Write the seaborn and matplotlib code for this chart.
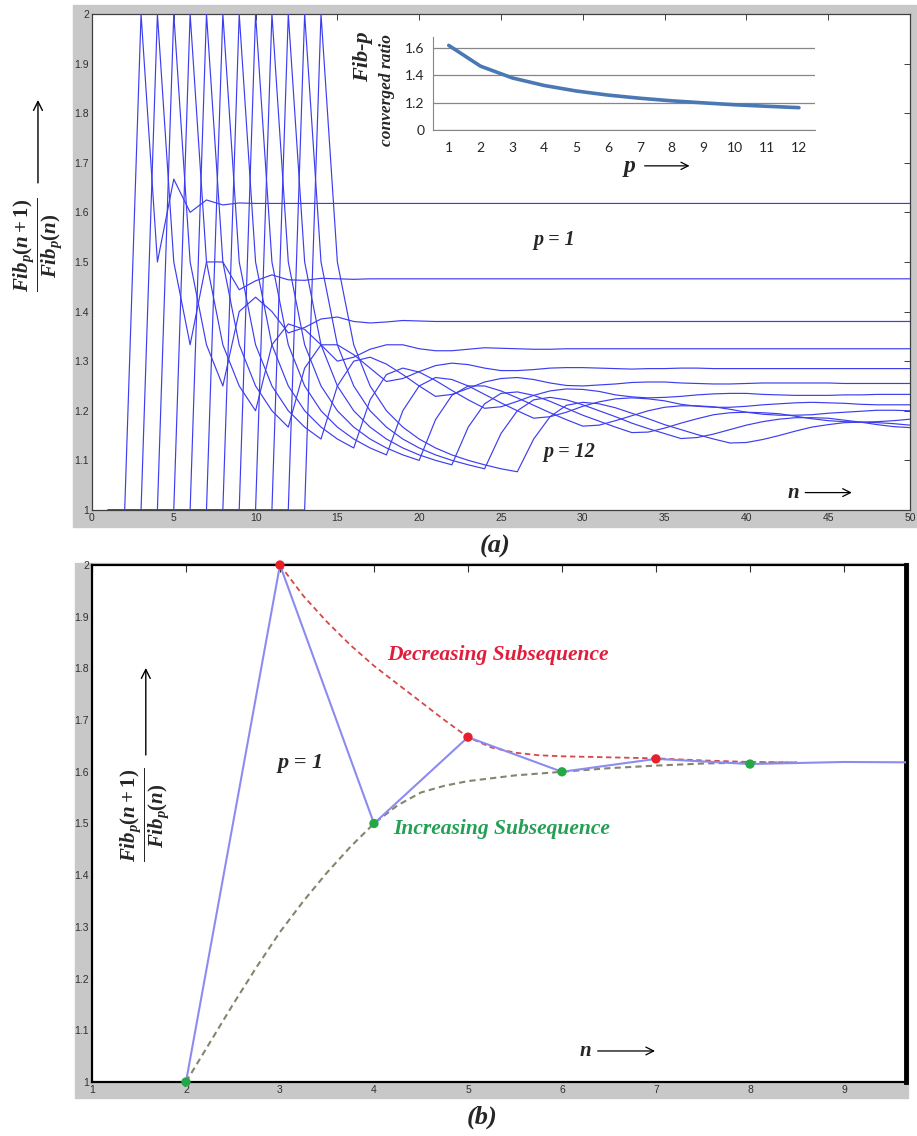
import numpy as np
import pandas as pd
import seaborn as sns
import matplotlib.pyplot as plt
from matplotlib.patches import Rectangle
from matplotlib.ticker import FuncFormatter

# --- ratio Fib_p(n+1)/Fib_p(n), n = 1..50 ---
n_vals = np.arange(1, 51)

fib_p1 = [1, 1, 2, 1.5, 1.667, 1.6, 1.625, 1.615, 1.619, 1.618,
          1.618, 1.618, 1.618, 1.618, 1.618, 1.618, 1.618, 1.618, 1.618, 1.618,
          1.618, 1.618, 1.618, 1.618, 1.618, 1.618, 1.618, 1.618, 1.618, 1.618,
          1.618, 1.618, 1.618, 1.618, 1.618, 1.618, 1.618, 1.618, 1.618, 1.618,
          1.618, 1.618, 1.618, 1.618, 1.618, 1.618, 1.618, 1.618, 1.618, 1.618]
fib_p2 = [1, 1, 1, 2, 1.5, 1.333, 1.5, 1.5, 1.444, 1.462,
          1.474, 1.464, 1.463, 1.467, 1.466, 1.465, 1.466, 1.466, 1.466, 1.466,
          1.466, 1.466, 1.466, 1.466, 1.466, 1.466, 1.466, 1.466, 1.466, 1.466,
          1.466, 1.466, 1.466, 1.466, 1.466, 1.466, 1.466, 1.466, 1.466, 1.466,
          1.466, 1.466, 1.466, 1.466, 1.466, 1.466, 1.466, 1.466, 1.466, 1.466]
fib_p3 = [1, 1, 1, 1, 2, 1.5, 1.333, 1.25, 1.4, 1.429,
          1.4, 1.357, 1.368, 1.385, 1.389, 1.38, 1.377, 1.379, 1.382, 1.381,
          1.38, 1.38, 1.38, 1.38, 1.38, 1.38, 1.38, 1.38, 1.38, 1.38,
          1.38, 1.38, 1.38, 1.38, 1.38, 1.38, 1.38, 1.38, 1.38, 1.38,
          1.38, 1.38, 1.38, 1.38, 1.38, 1.38, 1.38, 1.38, 1.38, 1.38]
fib_p4 = [1, 1, 1, 1, 1, 2, 1.5, 1.333, 1.25, 1.2,
          1.333, 1.375, 1.364, 1.333, 1.3, 1.308, 1.324, 1.333, 1.333, 1.325,
          1.321, 1.321, 1.324, 1.327, 1.326, 1.325, 1.324, 1.324, 1.325, 1.325,
          1.325, 1.325, 1.325, 1.325, 1.325, 1.325, 1.325, 1.325, 1.325, 1.325,
          1.325, 1.325, 1.325, 1.325, 1.325, 1.325, 1.325, 1.325, 1.325, 1.325]
fib_p5 = [1, 1, 1, 1, 1, 1, 2, 1.5, 1.333, 1.25,
          1.2, 1.167, 1.286, 1.333, 1.333, 1.313, 1.286, 1.259, 1.265, 1.279,
          1.291, 1.296, 1.293, 1.286, 1.281, 1.281, 1.283, 1.286, 1.287, 1.287,
          1.286, 1.285, 1.284, 1.285, 1.285, 1.286, 1.286, 1.285, 1.285, 1.285,
          1.285, 1.285, 1.285, 1.285, 1.285, 1.285, 1.285, 1.285, 1.285, 1.285]
fib_p6 = [1, 1, 1, 1, 1, 1, 1, 2, 1.5, 1.333,
          1.25, 1.2, 1.167, 1.143, 1.25, 1.3, 1.308, 1.294, 1.273, 1.25,
          1.229, 1.233, 1.245, 1.258, 1.265, 1.267, 1.263, 1.256, 1.251, 1.25,
          1.252, 1.254, 1.257, 1.258, 1.258, 1.256, 1.255, 1.254, 1.254, 1.255,
          1.256, 1.256, 1.256, 1.256, 1.256, 1.255, 1.255, 1.255, 1.255, 1.255]
fib_p7 = [1, 1, 1, 1, 1, 1, 1, 1, 2, 1.5,
          1.333, 1.25, 1.2, 1.167, 1.143, 1.125, 1.222, 1.273, 1.286, 1.278,
          1.261, 1.241, 1.222, 1.205, 1.208, 1.219, 1.231, 1.24, 1.244, 1.243,
          1.239, 1.232, 1.228, 1.226, 1.227, 1.229, 1.232, 1.234, 1.235, 1.235,
          1.233, 1.232, 1.231, 1.231, 1.231, 1.232, 1.232, 1.233, 1.233, 1.233]
fib_p8 = [1, 1, 1, 1, 1, 1, 1, 1, 1, 2,
          1.5, 1.333, 1.25, 1.2, 1.167, 1.143, 1.125, 1.111, 1.2, 1.25,
          1.267, 1.263, 1.25, 1.233, 1.216, 1.2, 1.185, 1.188, 1.197, 1.209,
          1.218, 1.224, 1.226, 1.224, 1.22, 1.213, 1.209, 1.207, 1.207, 1.209,
          1.212, 1.214, 1.216, 1.217, 1.216, 1.215, 1.213, 1.212, 1.212, 1.212]
fib_p9 = [1, 1, 1, 1, 1, 1, 1, 1, 1, 1,
          2, 1.5, 1.333, 1.25, 1.2, 1.167, 1.143, 1.125, 1.111, 1.1,
          1.182, 1.231, 1.25, 1.25, 1.24, 1.226, 1.211, 1.196, 1.182, 1.169,
          1.171, 1.18, 1.19, 1.2, 1.207, 1.21, 1.21, 1.208, 1.203, 1.197,
          1.193, 1.191, 1.191, 1.192, 1.195, 1.197, 1.199, 1.201, 1.201, 1.2]
fib_p10 = [1, 1, 1, 1, 1, 1, 1, 1, 1, 1,
           1, 2, 1.5, 1.333, 1.25, 1.2, 1.167, 1.143, 1.125, 1.111,
           1.1, 1.091, 1.167, 1.214, 1.235, 1.238, 1.231, 1.219, 1.205, 1.191,
           1.179, 1.167, 1.156, 1.157, 1.165, 1.175, 1.184, 1.192, 1.196, 1.197,
           1.196, 1.194, 1.189, 1.184, 1.18, 1.178, 1.177, 1.178, 1.18, 1.183]
fib_p11 = [1, 1, 1, 1, 1, 1, 1, 1, 1, 1,
           1, 1, 2, 1.5, 1.333, 1.25, 1.2, 1.167, 1.143, 1.125,
           1.111, 1.1, 1.091, 1.083, 1.154, 1.2, 1.222, 1.227, 1.222, 1.212,
           1.2, 1.188, 1.175, 1.164, 1.154, 1.144, 1.146, 1.153, 1.162, 1.171,
           1.178, 1.183, 1.186, 1.186, 1.185, 1.181, 1.177, 1.172, 1.168, 1.166]
fib_p12 = [1, 1, 1, 1, 1, 1, 1, 1, 1, 1,
           1, 1, 1, 2, 1.5, 1.333, 1.25, 1.2, 1.167, 1.143,
           1.125, 1.111, 1.1, 1.091, 1.083, 1.077, 1.143, 1.188, 1.211, 1.217,
           1.214, 1.206, 1.195, 1.184, 1.172, 1.162, 1.152, 1.143, 1.135, 1.136,
           1.142, 1.15, 1.159, 1.167, 1.172, 1.176, 1.177, 1.176, 1.174, 1.171]

all_series = [fib_p1, fib_p2, fib_p3, fib_p4, fib_p5, fib_p6,
              fib_p7, fib_p8, fib_p9, fib_p10, fib_p11, fib_p12]

# inset: converged ratio per p
p_vals = np.arange(1, 13)
conv_ratio = [1.618, 1.466, 1.380, 1.325, 1.285, 1.255,
              1.232, 1.213, 1.198, 1.184, 1.173, 1.163]

# panel (b): p = 1 and the two subsequences
n_b = n_vals[1:10]
ratio_b = fib_p1[1:10]
dec_n = [3, 5, 7]
dec_y = [2.0, 1.667, 1.625]
inc_n = [2, 4, 6, 8]
inc_y = [1.0, 1.5, 1.6, 1.615]
# dashed envelopes
dec_curve_x = [3.0, 3.25, 3.5, 3.75, 4.0, 4.25, 4.5, 4.75, 5.0, 5.25, 5.5, 5.75,
               6.0, 6.5, 7.0, 7.5, 8.0, 8.5]
dec_curve_y = [2.0, 1.94, 1.89, 1.845, 1.805, 1.77, 1.735, 1.7, 1.667, 1.647, 1.637, 1.632,
               1.63, 1.628, 1.626, 1.622, 1.619, 1.618]
inc_curve_x = [2.0, 2.25, 2.5, 2.75, 3.0, 3.25, 3.5, 3.75, 4.0, 4.25, 4.5, 4.75,
               5.0, 5.5, 6.0, 6.5, 7.0, 7.5, 8.0, 8.5]
inc_curve_y = [1.0, 1.075, 1.15, 1.222, 1.29, 1.35, 1.405, 1.455, 1.5, 1.535, 1.56, 1.573,
               1.582, 1.593, 1.6, 1.607, 1.612, 1.616, 1.618, 1.618]

df = pd.DataFrame({
    'n': np.tile(n_vals, len(all_series)),
    'p': np.repeat(p_vals, len(n_vals)),
    'ratio': np.concatenate(all_series),
})

sns.set_style("white")
plt.rcParams['font.family'] = ['Liberation Sans', 'DejaVu Sans']
plt.rcParams['mathtext.fontset'] = 'custom'
plt.rcParams['mathtext.it'] = 'Liberation Serif:italic:bold'
plt.rcParams['mathtext.rm'] = 'Liberation Serif:bold'
plt.rcParams['mathtext.bf'] = 'Liberation Serif:bold'

bi = dict(family='Liberation Serif', weight='bold', style='italic')
blue = '#3d3df0'
gray_bg = '#c8c8c8'
fmt = FuncFormatter(lambda v, _: f'{v:g}')

fig = plt.figure(figsize=(9.17, 11.36), dpi=100)
fig.patches.append(Rectangle((0.0796, 0.5361), 0.9204, 0.4595, transform=fig.transFigure,
                             color=gray_bg, zorder=-10))
fig.patches.append(Rectangle((0.0818, 0.0335), 0.9084, 0.4709, transform=fig.transFigure,
                             color=gray_bg, zorder=-10))

# ---------------- panel (a) ----------------
ax_a = fig.add_axes([0.1003, 0.5511, 0.892, 0.4366])
ax_a.set_facecolor('white')
sns.lineplot(data=df, x='n', y='ratio', units='p', estimator=None, color=blue,
             lw=0.85, ax=ax_a, zorder=3)
ax_a.set_xlim(0, 50)
ax_a.set_ylim(1, 2)
ax_a.set_xticks(range(0, 51, 5))
ax_a.set_yticks(np.round(np.arange(1, 2.01, 0.1), 1))
ax_a.xaxis.set_major_formatter(fmt)
ax_a.yaxis.set_major_formatter(fmt)
ax_a.tick_params(direction='in', length=4, width=0.7, color='#404040', labelsize=7.5,
                 labelcolor='#303030', top=True, right=True, pad=2)
for s in ax_a.spines.values():
    s.set_color('#404040')
    s.set_linewidth(0.9)
ax_a.set_xlabel('')
ax_a.set_ylabel('')

ax_a.text(27.0, 1.545, 'p = 1', fontsize=14.5, va='center', **bi)
ax_a.text(27.6, 1.117, 'p = 12', fontsize=14.5, va='center', **bi)
ax_a.text(42.5, 1.035, 'n', fontsize=15, va='center', **bi)
ax_a.annotate('', xy=(46.45, 1.035), xytext=(43.6, 1.035),
              arrowprops=dict(arrowstyle='->', lw=0.9, color='black', shrinkA=0, shrinkB=0,
                              mutation_scale=14))

# inset
ax_in = fig.add_axes([0.472, 0.8856, 0.4166, 0.0819])
ax_in.set_facecolor('white')
sns.lineplot(x=p_vals, y=conv_ratio, color='#4a78b4', lw=2.6, ax=ax_in)
ax_in.set_xlim(0.5, 12.5)
ax_in.set_ylim(1.0, 1.68)
ax_in.set_yticks([1.0, 1.2, 1.4, 1.6])
ax_in.set_yticklabels(['0', '1.2', '1.4', '1.6'])
ax_in.set_xticks(p_vals)
ax_in.set_xticks(np.arange(0.5, 13, 1), minor=True)
ax_in.tick_params(axis='x', which='major', length=0, pad=9, labelsize=10)
ax_in.tick_params(axis='x', which='minor', length=4, direction='out', color='#868686')
ax_in.tick_params(axis='y', length=3, direction='out', color='#868686', labelsize=10, pad=3)
for lbl in ax_in.get_xticklabels() + ax_in.get_yticklabels():
    lbl.set_fontfamily('Lato')
ax_in.grid(axis='y', color='#868686', lw=0.9)
ax_in.set_axisbelow(True)
for side in ['top', 'right']:
    ax_in.spines[side].set_visible(False)
for side in ['left', 'bottom']:
    ax_in.spines[side].set_color('#868686')
ax_in.set_xlabel('')
ax_in.set_ylabel('')
fig.text(0.396, 0.950, 'Fib-p', rotation=90, ha='center', va='center', fontsize=16, **bi)
fig.text(0.422, 0.921, 'converged ratio', rotation=90, ha='center', va='center',
         fontsize=12.5, **bi)
fig.text(0.687, 0.853, 'p', ha='center', va='center', fontsize=17, **bi)
ax_in.annotate('', xy=(0.752, 0.854), xytext=(0.703, 0.854), xycoords='figure fraction',
               arrowprops=dict(arrowstyle='->', lw=0.9, color='black', shrinkA=0, shrinkB=0,
                               mutation_scale=13))

# y-label (a)
fig.text(0.0414, 0.7843, r'$\dfrac{Fib_p(n+1)}{Fib_p(n)}$', rotation=90, ha='center',
         va='center', fontsize=15)
ax_a.annotate('', xy=(0.0414, 0.912), xytext=(0.0414, 0.839), xycoords='figure fraction',
              arrowprops=dict(arrowstyle='->', lw=1.0, color='black', shrinkA=0, shrinkB=0,
                              mutation_scale=16))
fig.text(0.54, 0.519, '(a)', ha='center', va='center', fontsize=19, **bi)

# ---------------- panel (b) ----------------
ax_b = fig.add_axes([0.1003, 0.04754, 0.8877, 0.4551])
ax_b.set_facecolor('white')
sns.lineplot(x=dec_curve_x, y=dec_curve_y, color='#d24a4a', lw=1.3, linestyle=(0, (3, 2)),
             ax=ax_b, zorder=2)
sns.lineplot(x=inc_curve_x, y=inc_curve_y, color='#85856e', lw=1.5, linestyle=(0, (3, 2)),
             ax=ax_b, zorder=2)
sns.lineplot(x=n_b, y=ratio_b, color='#8c8cf0', lw=1.5, ax=ax_b, zorder=3)
sns.scatterplot(x=dec_n, y=dec_y, color='#e8202a', s=45, edgecolor='none', ax=ax_b,
                zorder=4, clip_on=False)
sns.scatterplot(x=inc_n, y=inc_y, color='#22a844', s=45, edgecolor='none', ax=ax_b,
                zorder=4, clip_on=False)
ax_b.set_xlim(1, 9.66)
ax_b.set_ylim(1, 2)
ax_b.set_xticks(range(1, 10))
ax_b.set_yticks(np.round(np.arange(1, 2.01, 0.1), 1))
ax_b.xaxis.set_major_formatter(fmt)
ax_b.yaxis.set_major_formatter(fmt)
ax_b.tick_params(direction='in', length=5, width=0.8, color='#303030', labelsize=7.5,
                 labelcolor='#303030', top=True, pad=2)
for s in ax_b.spines.values():
    s.set_color('black')
    s.set_linewidth(1.6)
ax_b.spines['right'].set_linewidth(3.5)
ax_b.set_xlabel('')
ax_b.set_ylabel('')

ax_b.text(4.14, 1.825, 'Decreasing Subsequence', color='#e01e3c', fontsize=15.5,
          va='center', **bi)
ax_b.text(4.20, 1.489, 'Increasing Subsequence', color='#23a055', fontsize=15.5,
          va='center', **bi)
ax_b.text(2.97, 1.617, 'p = 1', fontsize=16, va='center', **bi)
ax_b.text(6.19, 1.06, 'n', fontsize=15, va='center', **bi)
ax_b.annotate('', xy=(6.99, 1.06), xytext=(6.38, 1.06),
              arrowprops=dict(arrowstyle='->', lw=0.9, color='black', shrinkA=0, shrinkB=0,
                              mutation_scale=14))

fig.text(0.158, 0.2826, r'$\dfrac{Fib_p(n+1)}{Fib_p(n)}$', rotation=90, ha='center',
         va='center', fontsize=15)
ax_b.annotate('', xy=(0.159, 0.412), xytext=(0.159, 0.3354), xycoords='figure fraction',
              arrowprops=dict(arrowstyle='->', lw=1.0, color='black', shrinkA=0, shrinkB=0,
                              mutation_scale=16))
fig.text(0.526, 0.0167, '(b)', ha='center', va='center', fontsize=19, **bi)

fig.savefig('out.png', dpi=100)
